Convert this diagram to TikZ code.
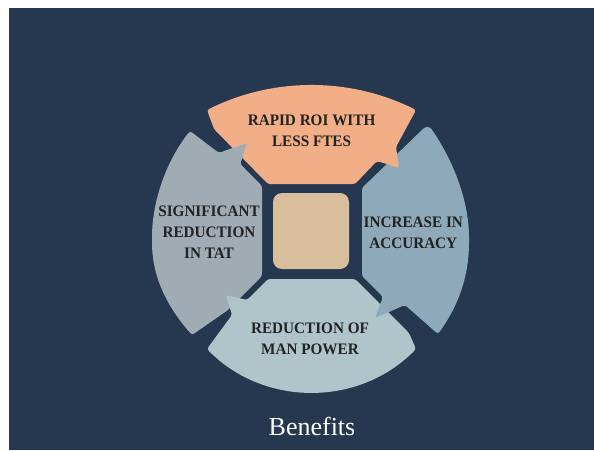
\documentclass[tikz,border=0pt]{standalone}
\usepackage{fontspec}
\setmainfont{Liberation Serif}
\newfontfamily\lblfont{Liberation Serif}[FakeStretch=0.95]
\definecolor{bgc}{HTML}{263850}
\definecolor{orangec}{HTML}{F2AE86}
\definecolor{greyc}{HTML}{A0ABB3}
\definecolor{bluec}{HTML}{8EA9BA}
\definecolor{tealc}{HTML}{AFC5C9}
\definecolor{centerc}{HTML}{D9BE9D}
\definecolor{textc}{HTML}{222222}
\begin{document}
\begin{tikzpicture}[x=1pt,y=-1pt,
  txt/.style={font=\lblfont\bfseries\fontsize{16}{21}\selectfont, text=textc, align=center, inner sep=0pt},
  shapefill/.style={rounded corners=2.5pt}]
\useasboundingbox (0,0) rectangle (594,450);
\fill[white] (0,0) rectangle (594,450);
\fill[bgc] (9,8) rectangle (594,450);
% left piece
\fill[greyc, shapefill] (192,335) .. controls (170,310) and (152,280) .. (152,240) .. controls (152,200) and (167,160) .. (190,131) -- (219,153) -- (247,143) -- (240,164) -- (262,186) -- (262,276) -- (228,310) -- cycle;
% bottom piece
\fill[tealc, shapefill] (416,349) .. controls (359,407) and (264,407) .. (207,349) -- (232,315) -- (226,295) -- (247,300) -- (268,279) -- (355,279) -- (409,333) -- cycle;
% right piece
\fill[bluec, shapefill] (430,127) .. controls (452.5,159) and (469,200) .. (469,240) .. controls (469,280) and (456,309) .. (438,334) -- (405,305) -- (375,318) -- (383,297) -- (362,276) -- (362,188) -- (425,127) -- cycle;
% top piece
\fill[orangec, shapefill] (207,110) .. controls (273,77) and (350,77) .. (416,110) -- (396,147) -- (399,168) -- (377,161) -- (355,184) -- (268,184) -- (214,129) -- cycle;
% left piece arrowhead on top
\begin{scope}
\clip (236,152) circle[radius=19];
\fill[greyc, shapefill] (192,335) .. controls (170,310) and (152,280) .. (152,240) .. controls (152,200) and (167,160) .. (190,131) -- (219,153) -- (247,143) -- (240,164) -- (262,186) -- (262,276) -- (228,310) -- cycle;
\end{scope}
\node[fill=centerc, rounded corners=9pt, minimum size=76pt, inner sep=0pt] (center) at (311,231) {};
\node[txt] (top) at (311.6,131.2) {RAPID ROI WITH\\LESS FTES};
\node[txt] (left) at (209,232.5) {SIGNIFICANT\\REDUCTION\\IN TAT};
\node[txt] (right) at (413.3,232.4) {INCREASE IN\\ACCURACY};
\node[txt] (bottom) at (310,338.9) {REDUCTION OF\\MAN POWER};
\node[font=\fontsize{26}{30}\selectfont, text=white, anchor=base, inner sep=0pt] (title) at (312,435) {Benefits};
\end{tikzpicture}
\end{document}
